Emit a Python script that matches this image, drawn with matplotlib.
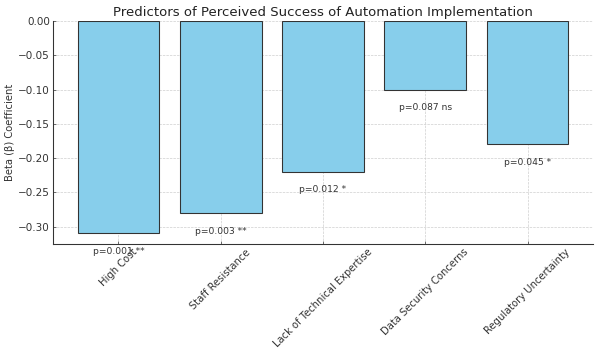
import matplotlib
matplotlib.use("Agg")
import matplotlib.pyplot as plt

categories = ["High Cost", "Staff Resistance", "Lack of Technical Expertise",
              "Data Security Concerns", "Regulatory Uncertainty"]
betas = [-0.31, -0.28, -0.22, -0.10, -0.18]
p_labels = ["p=0.001 **", "p=0.003 **", "p=0.012 *", "p=0.087 ns", "p=0.045 *"]

fig, ax = plt.subplots(figsize=(10, 5.96), dpi=59.9)
bars = ax.bar(categories, betas, color="skyblue", edgecolor="#333333", linewidth=1.3, zorder=2)

for bar, lab in zip(bars, p_labels):
    h = bar.get_height()
    ax.text(bar.get_x() + bar.get_width() / 2, h - 0.02, lab,
            ha="center", va="top", fontsize=11, color="#333333")

ax.set_title("Predictors of Perceived Success of Automation Implementation", fontsize=16, color="#222222")
ax.set_ylabel("Beta (β) Coefficient", fontsize=12, color="#333333")
ax.grid(True, linestyle="--", color="#cccccc", linewidth=0.8, zorder=0)
ax.spines["top"].set_visible(False)
ax.spines["right"].set_visible(False)
ax.spines["left"].set_color("#333333")
ax.spines["bottom"].set_color("#333333")
ax.spines["left"].set_linewidth(1.3)
ax.spines["bottom"].set_linewidth(1.3)
ax.tick_params(direction="in", labelsize=12.5, colors="#333333")
ax.tick_params(axis="x", labelsize=12)
plt.xticks(rotation=45)

fig.subplots_adjust(left=0.0885, right=0.99, top=0.941, bottom=0.3165)
plt.savefig("out.png", dpi=59.9)
